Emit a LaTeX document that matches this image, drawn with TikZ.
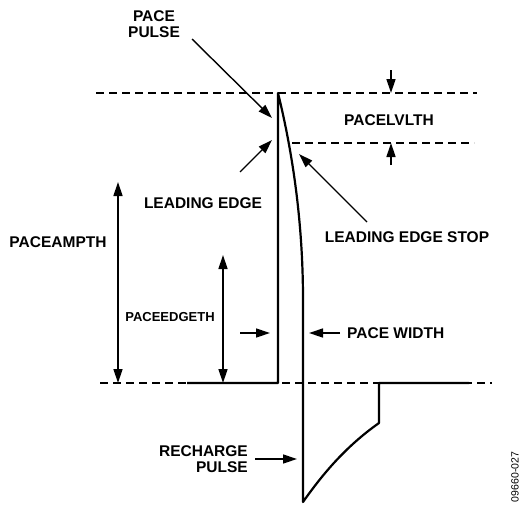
\documentclass[tikz,border=0pt]{standalone}
\usepackage{fontspec}
\setmainfont{Liberation Sans}
\usetikzlibrary{arrows.meta,positioning}

\begin{document}
\begin{tikzpicture}[x=1pt, y=-1pt, >={Triangle[length=14pt,width=9pt]},
  every node/.style={font=\bfseries\fontsize{15.5}{16}\selectfont, inner sep=0pt, align=center},
  guide/.style={dash pattern=on 8pt off 5pt, line width=1.4pt},
  pulse/.style={line width=2.2pt, line join=round},
  pointer/.style={->, line width=1.4pt}]
\useasboundingbox (0,0) rectangle (522,506);
% levels
\coordinate (topL) at (96,93);
\coordinate (topR) at (477,93);
\coordinate (lvlL) at (292,143);
\coordinate (lvlR) at (474,143);
\coordinate (baseL) at (100,383);
\coordinate (baseR) at (492,383);
\draw[guide] (topL) -- (topR);
\draw[guide] (lvlL) -- (lvlR);
\draw[guide] (baseL) -- (baseR);
% pulse and recharge
\draw[pulse] (187,383) -- (278,383) -- (278,93)
  .. controls (292,150) and (303,220) .. (303,300) -- (303,502)
  .. controls (322,475) and (345,447) .. (379,423) -- (379,383) -- (469,383);
% labels
\node (pp) at (154,24) {PACE\\PULSE};
\node (le) at (203,203) {LEADING EDGE};
\node (les) at (407,237) {LEADING EDGE STOP};
\node (lvl) at (389,120) {PACELVLTH};
\node (amp) at (58,242) {PACEAMPTH};
\node[font=\bfseries\fontsize{13}{14}\selectfont] (edge) at (170,317) {PACEEDGETH};
\node[anchor=west] (pw) at (347,333) {PACE WIDTH};
\node[anchor=east, align=right] (rp) at (248,459) {RECHARGE\\PULSE};
\node[rotate=90, font=\fontsize{10.5}{12}\selectfont] (fig) at (515,477) {09660-027};
% pointers
\coordinate (ppA) at (192,39);   \coordinate (ppB) at (272,118);
\coordinate (leA) at (240,172);  \coordinate (leB) at (272,140);
\coordinate (lesA) at (367,222); \coordinate (lesB) at (299,154);
\coordinate (lvlA) at (391,70);  \coordinate (lvlB) at (391,93);
\coordinate (lvlC) at (391,165); \coordinate (lvlD) at (391,143);
\coordinate (ampA) at (118,182); \coordinate (ampB) at (118,383);
\coordinate (edgeA) at (223,255); \coordinate (edgeB) at (223,383);
\coordinate (pwA) at (240,333);  \coordinate (pwB) at (270,333);
\coordinate (pwC) at (340,333);  \coordinate (pwD) at (309,333);
\coordinate (rpA) at (255,459);  \coordinate (rpB) at (297,459);
\draw[pointer] (ppA) -- (ppB);
\draw[pointer] (leA) -- (leB);
\draw[pointer] (lesA) -- (lesB);
\draw[pointer] (lvlA) -- (lvlB);
\draw[pointer] (lvlC) -- (lvlD);
\draw[pointer, <->] (ampA) -- (ampB);
\draw[pointer, <->] (edgeA) -- (edgeB);
\draw[pointer] (pwA) -- (pwB);
\draw[pointer] (pwC) -- (pwD);
\draw[pointer] (rpA) -- (rpB);
\end{tikzpicture}
\end{document}
